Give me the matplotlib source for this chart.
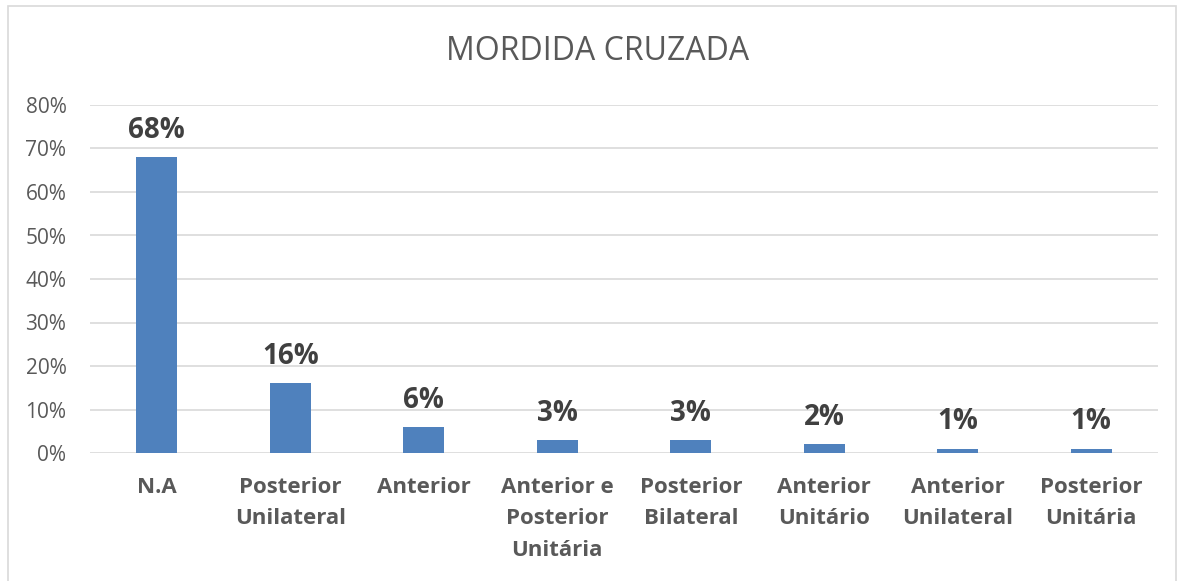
import matplotlib
matplotlib.use("Agg")
import matplotlib.pyplot as plt
from matplotlib.patches import Rectangle

categorias = ["N.A", "Posterior\nUnilateral", "Anterior", "Anterior e\nPosterior\nUnitária",
              "Posterior\nBilateral", "Anterior\nUnitário", "Anterior\nUnilateral", "Posterior\nUnitária"]
valores = [68, 16, 6, 3, 3, 2, 1, 1]
yticks = [0, 10, 20, 30, 40, 50, 60, 70, 80]

plt.rcParams['font.family'] = ['Open Sans', 'DejaVu Sans']

fig = plt.figure(figsize=(11.85, 5.81), dpi=100)
ax = fig.add_axes([90 / 1185, 1 - 453 / 581, (1158 - 90) / 1185, (453 - 105) / 581])

x = range(len(categorias))
bars = ax.bar(x, valores, width=0.31, color='#4F81BD', zorder=3)

for xi, v in zip(x, valores):
    ax.text(xi, v + 2.8, f"{v}%", ha='center', va='bottom', fontsize=20,
            fontweight='bold', color='#404040')

ax.set_xlim(-0.5, len(categorias) - 0.5)
ax.set_ylim(0, 80)
ax.set_yticks(yticks)
ax.set_yticklabels([f"{t}%" for t in yticks], fontsize=15, color='#595959')
ax.set_xticks(list(x))
ax.set_xticklabels(categorias, fontsize=16, fontweight='bold', color='#595959',
                   va='top', linespacing=1.68)
ax.tick_params(axis='both', length=0)
ax.tick_params(axis='x', pad=17)
ax.tick_params(axis='y', pad=17)
ax.grid(axis='y', color='#D9D9D9', linewidth=1.2, zorder=0)
for s in ax.spines.values():
    s.set_visible(False)

fig.text(598 / 1185, 1 - 52 / 581, "MORDIDA CRUZADA", ha='center', va='center',
         fontsize=23, color='#595959')

fig.patches.append(Rectangle((8 / 1185, -0.05), (1176 - 8) / 1185, 1 - 6 / 581 + 0.05,
                             transform=fig.transFigure, fill=False,
                             edgecolor='#D9D9D9', linewidth=1.2))

fig.savefig("out.png", dpi=100)
